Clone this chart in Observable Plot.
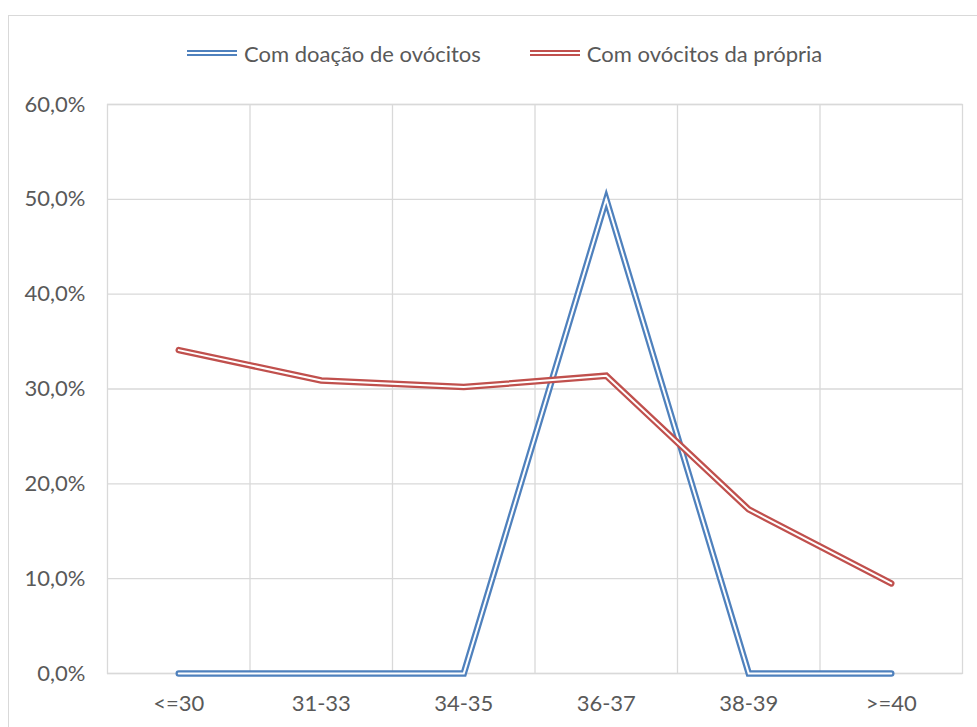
<!DOCTYPE html>
<html>
<head>
<meta charset="utf-8">
<script src="https://cdn.jsdelivr.net/npm/d3@7"></script>
<script src="https://cdn.jsdelivr.net/npm/@observablehq/plot@0.6"></script>
<style>
  body { margin: 0; background: #fff; font-family: Lato, "Open Sans", sans-serif; }
  #frame { position: absolute; left: 8px; top: 15px; width: 975px; height: 740px; border: 1px solid #d9d9d9; box-sizing: border-box; }
  #legend { position: absolute; left: 187px; top: 38px; height: 30px; display: flex; align-items: center; color: #595959; font-size: 22px; }
  .item { display: flex; align-items: center; margin-right: 49px; }
  .sw { width: 50px; height: 2px; border-top: 2.5px solid; border-bottom: 2.5px solid; margin-right: 7px; }
  #chart { position: absolute; left: 0; top: 80px; }
</style>
</head>
<body>
<div id="frame"></div>
<div id="legend"></div>
<div id="chart"></div>
<script>
const categories = ["<=30", "31-33", "34-35", "36-37", "38-39", ">=40"];
const seriesNames = ["Com doação de ovócitos", "Com ovócitos da própria"];
const doacao = [0.0, 0.0, 0.0, 50.0, 0.0, 0.0];
const propria = [34.1, 30.9, 30.2, 31.4, 17.3, 9.5];
const yTicks = [0, 10, 20, 30, 40, 50, 60];
const colors = ["#4F81BD", "#C0504D"];

const rows = [];
[doacao, propria].forEach((vals, s) => {
  vals.forEach((v, i) => rows.push({ series: seriesNames[s], i, value: v }));
});
const idx = categories.map((c, i) => i);
const bounds = categories.map((c, i) => i + 0.5).slice(0, -1);

// legend
const lg = document.getElementById("legend");
seriesNames.forEach((n, s) => {
  const it = document.createElement("div");
  it.className = "item";
  const sw = document.createElement("div");
  sw.className = "sw";
  sw.style.borderColor = colors[s];
  const t = document.createElement("span");
  t.textContent = n;
  it.appendChild(sw); it.appendChild(t);
  lg.appendChild(it);
});

const fmt = d => d.toFixed(1).replace(".", ",") + "%";

const lineMarks = [];
seriesNames.forEach((n, s) => {
  const data = rows.filter(r => r.series === n);
  lineMarks.push(Plot.line(data, { x: "i", y: "value", stroke: colors[s], strokeWidth: 6.5, strokeLinejoin: "miter", strokeMiterlimit: 10 }));
  lineMarks.push(Plot.line(data, { x: "i", y: "value", stroke: "#ffffff", strokeWidth: 2, strokeLinejoin: "miter", strokeMiterlimit: 10 }));
});

const chart = Plot.plot({
  width: 977,
  height: 647,
  marginTop: 24,
  marginBottom: 54,
  marginLeft: 107,
  marginRight: 15,
  style: { fontFamily: "Lato, 'Open Sans', sans-serif", fontSize: "22px", color: "#595959", background: "transparent" },
  x: { type: "linear", domain: [-0.5, categories.length - 0.5] },
  y: { domain: [0, 60] },
  marks: [
    Plot.ruleY(yTicks, { stroke: "#d9d9d9", strokeWidth: 1.3 }),
    Plot.ruleX(bounds, { stroke: "#d9d9d9", strokeWidth: 1.3 }),
    Plot.frame({ stroke: "#d9d9d9", strokeWidth: 1.3 }),
    Plot.axisY({ ticks: yTicks, tickFormat: fmt, tickSize: 0, tickPadding: 22, label: null, fill: "#595959" }),
    Plot.axisX({ ticks: idx, tickFormat: i => categories[i], tickSize: 0, tickPadding: 22, label: null, fill: "#595959" }),
    ...lineMarks
  ]
});
document.getElementById("chart").appendChild(chart);
</script>
</body>
</html>
